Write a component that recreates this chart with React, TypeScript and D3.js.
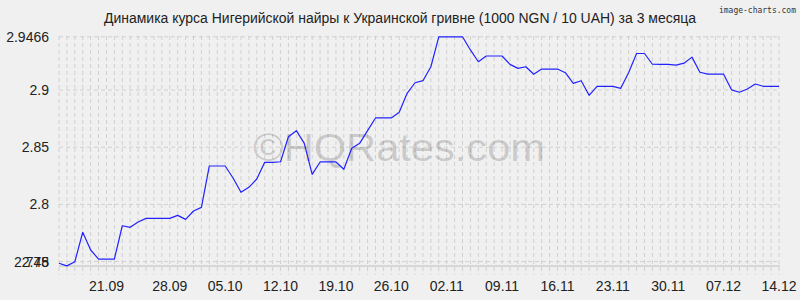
import React from "react";
import * as d3 from "d3";

const TITLE = "Динамика курса Нигерийской найры к Украинской гривне (1000 NGN / 10 UAH) за 3 месяца";
const values: number[] = [
  2.7485, 2.7462, 2.7498, 2.7756, 2.7601, 2.7522, 2.7522, 2.7522, 2.7813, 2.7799,
  2.7846, 2.7878, 2.7878, 2.7878, 2.7878, 2.7904, 2.7869, 2.7942, 2.7974, 2.8336,
  2.8336, 2.8336, 2.8231, 2.8106, 2.8149, 2.8222, 2.8368, 2.8368, 2.8373, 2.8592,
  2.8645, 2.8534, 2.8263, 2.8371, 2.8371, 2.8371, 2.8307, 2.8491, 2.8534, 2.8645,
  2.8756, 2.8756, 2.8756, 2.8806, 2.8972, 2.9064, 2.9082, 2.9204, 2.9466, 2.9466,
  2.9466, 2.9466, 2.9351, 2.9248, 2.9298, 2.9298, 2.9298, 2.9225, 2.919, 2.9204,
  2.9138, 2.9184, 2.9184, 2.9184, 2.9152, 2.9059, 2.9082, 2.8954, 2.9033, 2.9033,
  2.9033, 2.9015, 2.9154, 2.932, 2.932, 2.9226, 2.9225, 2.9225, 2.9218, 2.9235,
  2.9288, 2.9156, 2.9139, 2.9139, 2.9139, 2.9002, 2.8981, 2.9009, 2.9053, 2.9033,
  2.9033, 2.9033,
];
const xTickIndex: number[] = [6, 14, 21, 28, 35, 42, 49, 56, 63, 70, 77, 84, 91];
const xTickLabels: string[] = [
  "21.09", "28.09", "05.10", "12.10", "19.10", "26.10", "02.11",
  "09.11", "16.11", "23.11", "30.11", "07.12", "14.12",
];
const yTicks: number[] = [2.9466, 2.9, 2.85, 2.8, 2.75];
const yTickLabels: string[] = ["2.9466", "2.9", "2.85", "2.8", "2.75"];
const yMinTick = 2.748;
const yMinLabel = "2.748";

const W = 800;
const H = 300;
const L = 59;
const R = 779;
const TOP = 36.8;
const BOTTOM = 266;

export default function App() {
  const x = d3.scaleLinear().domain([0, values.length - 1]).range([L, R]);
  const y = d3.scaleLinear().domain([2.7461, 2.9466]).range([BOTTOM, TOP]);
  const line = d3
    .line<number>()
    .x((_, i) => x(i))
    .y((d) => y(d));
  const font = "'Liberation Sans', Arial, sans-serif";
  const grid = "#d0d0d0";

  return (
    <div style={{ position: "absolute", left: 0, top: 0, width: W, height: H }}>
      <svg width={W} height={H} style={{ display: "block", background: "#f0f0f0" }}>
        <rect x={0} y={0} width={W} height={H} fill="#f0f0f0" />
        <text
          x={796}
          y={13}
          fontFamily="'DejaVu Sans Mono', monospace"
          fontSize={9.5}
          textAnchor="end"
          fill="#333"
          textLength={77}
          lengthAdjust="spacingAndGlyphs"
        >
          image-charts.com
        </text>
        <text
          x={400}
          y={23}
          fontFamily={font}
          fontSize={14}
          textAnchor="middle"
          fill="#222"
          textLength={592}
          lengthAdjust="spacingAndGlyphs"
        >
          {TITLE}
        </text>
        {values.map((_, i) => (
          <line
            key={"v" + i}
            x1={x(i)}
            x2={x(i)}
            y1={36}
            y2={275}
            stroke={grid}
            strokeWidth={1}
            strokeDasharray="4,3"
          />
        ))}
        {yTicks.map((t, i) => (
          <line
            key={"h" + i}
            x1={L}
            x2={R}
            y1={y(t)}
            y2={y(t)}
            stroke={grid}
            strokeWidth={1}
            strokeDasharray="4,3"
          />
        ))}
        <line x1={L} x2={R + 1} y1={BOTTOM} y2={BOTTOM} stroke="#bdbdbd" strokeWidth={1} />
        <text
          x={253}
          y={161}
          fontFamily={font}
          fontSize={38}
          fill="#000"
          fillOpacity={0.16}
          textLength={292}
          lengthAdjust="spacingAndGlyphs"
        >
          ©HQRates.com
        </text>
        <path d={line(values) || ""} fill="none" stroke="#2222ff" strokeWidth={1.2} strokeLinejoin="round" />
        {yTicks.map((t, i) => (
          <text
            key={"yl" + i}
            x={49}
            y={y(t) + 5}
            fontFamily={font}
            fontSize={14}
            textAnchor="end"
            fill="#222"
          >
            {yTickLabels[i]}
          </text>
        ))}
        <text x={49} y={y(yMinTick) + 3} fontFamily={font} fontSize={14} textAnchor="end" fill="#222">
          {yMinLabel}
        </text>
        {xTickIndex.map((idx, i) => (
          <text
            key={"xl" + i}
            x={x(idx)}
            y={291}
            fontFamily={font}
            fontSize={14}
            textAnchor="middle"
            fill="#222"
          >
            {xTickLabels[i]}
          </text>
        ))}
      </svg>
    </div>
  );
}
